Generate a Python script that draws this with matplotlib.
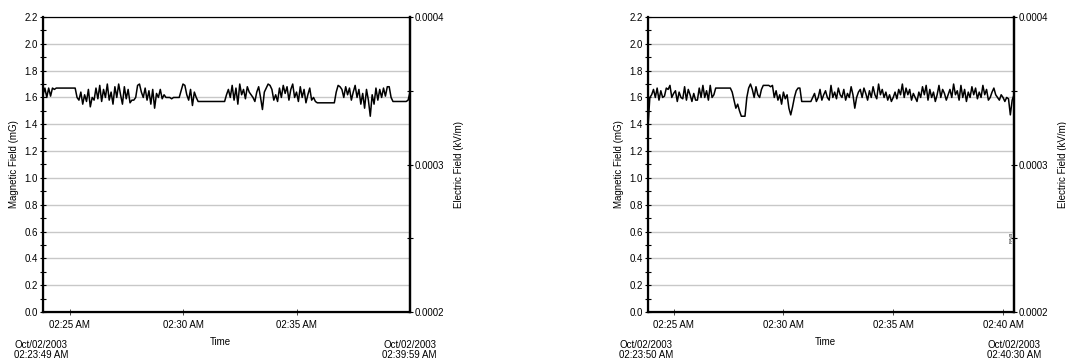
import matplotlib
matplotlib.use("Agg")
import matplotlib.pyplot as plt
import matplotlib.dates as mdates
from matplotlib.ticker import MultipleLocator, FixedLocator
import pandas as pd

plt.rcParams["font.family"] = ["Liberation Sans", "DejaVu Sans"]

# --- data ---
left_start = "2003-10-02 02:23:49"
left_end = "2003-10-02 02:39:59"
right_start = "2003-10-02 02:23:50"
right_end = "2003-10-02 02:40:30"

# magnetic field samples [mG], left recording
mag_left = (
    [1.62, 1.67, 1.60, 1.67, 1.61, 1.67, 1.66, 1.67]
    + [1.67] * 10
    + [1.60, 1.58, 1.64, 1.55, 1.62, 1.57, 1.66, 1.53, 1.60, 1.58,
       1.67, 1.59, 1.69, 1.57, 1.66, 1.60, 1.70, 1.58, 1.64, 1.55,
       1.68, 1.60, 1.70, 1.62, 1.55, 1.68, 1.59, 1.66, 1.56]
    + [1.58, 1.58, 1.60]
    + [1.69, 1.70, 1.64, 1.60, 1.67]
    + [1.58, 1.65, 1.55, 1.66, 1.52, 1.63, 1.60, 1.66, 1.59, 1.62]
    + [1.60, 1.60, 1.60, 1.59, 1.60, 1.60, 1.60, 1.60]
    + [1.65, 1.70, 1.69, 1.62]
    + [1.58, 1.66, 1.54, 1.64, 1.60, 1.57]
    + [1.57] * 13
    + [1.57, 1.62, 1.66, 1.60, 1.69, 1.58, 1.67, 1.55, 1.70, 1.62,
       1.66, 1.59, 1.68, 1.64, 1.62, 1.60, 1.57, 1.64, 1.68, 1.60,
       1.51, 1.64, 1.67, 1.70, 1.69, 1.66, 1.58, 1.62, 1.57, 1.67,
       1.60, 1.69, 1.63, 1.68, 1.58, 1.66, 1.70, 1.60, 1.64, 1.57,
       1.68, 1.60, 1.66, 1.56, 1.62, 1.67, 1.58, 1.60, 1.57]
    + [1.56] * 10
    + [1.64, 1.69, 1.68]
    + [1.66, 1.60, 1.68, 1.62, 1.67, 1.58, 1.64, 1.69, 1.60, 1.66,
       1.55, 1.63, 1.52, 1.66, 1.58, 1.46, 1.62, 1.55, 1.67, 1.58,
       1.66, 1.60, 1.67, 1.61, 1.68, 1.68, 1.60]
    + [1.57, 1.57, 1.57, 1.57, 1.57, 1.57, 1.57, 1.57, 1.58, 1.64]
)

# magnetic field samples [mG], right recording
mag_right = (
    [1.38, 1.60]
    + [1.62, 1.66, 1.60, 1.67, 1.58, 1.65, 1.60, 1.61, 1.67, 1.66,
       1.69, 1.60, 1.63, 1.65, 1.57, 1.64, 1.60, 1.59, 1.68, 1.58,
       1.66, 1.62, 1.57, 1.63, 1.58, 1.58, 1.67, 1.60, 1.69, 1.60,
       1.65, 1.58, 1.69, 1.60, 1.62, 1.67]
    + [1.67] * 8
    + [1.64, 1.58, 1.52, 1.55, 1.50, 1.46, 1.46, 1.46, 1.60, 1.67]
    + [1.70, 1.66, 1.60, 1.68, 1.62, 1.60, 1.66]
    + [1.69, 1.69, 1.69, 1.69, 1.68, 1.69]
    + [1.60, 1.65, 1.58, 1.62, 1.55, 1.64, 1.59, 1.62, 1.52, 1.47]
    + [1.53, 1.60, 1.65, 1.67, 1.67]
    + [1.57] * 6
    + [1.60, 1.63, 1.57, 1.60, 1.66, 1.58, 1.62, 1.65, 1.60, 1.58,
       1.69, 1.60, 1.64, 1.59, 1.67, 1.62, 1.60, 1.66, 1.58, 1.63,
       1.60, 1.68, 1.62, 1.52]
    + [1.60, 1.64, 1.66, 1.60, 1.67, 1.63, 1.58, 1.65, 1.60, 1.68,
       1.62, 1.59, 1.70, 1.62, 1.66, 1.60, 1.64, 1.58, 1.62, 1.57,
       1.60, 1.64, 1.59, 1.66, 1.62, 1.70, 1.60, 1.67, 1.62, 1.66,
       1.58, 1.63, 1.60, 1.57, 1.64, 1.60, 1.68, 1.62, 1.69, 1.58,
       1.66, 1.60, 1.64, 1.57, 1.62, 1.69, 1.60, 1.66, 1.63, 1.58,
       1.62, 1.66, 1.60, 1.70, 1.62, 1.65, 1.58, 1.69, 1.60, 1.66,
       1.57, 1.64, 1.60, 1.68, 1.62, 1.67, 1.59, 1.64, 1.60, 1.69,
       1.62, 1.66, 1.58, 1.60, 1.64, 1.67, 1.62, 1.60, 1.58, 1.62,
       1.60, 1.57, 1.60, 1.59]
    + [1.47, 1.58, 1.62]
)

mag_ticks = [0.0, 0.2, 0.4, 0.6, 0.8, 1.0, 1.2, 1.4, 1.6, 1.8, 2.0, 2.2]
ef_ticks = [0.0002, 0.0003, 0.0004]
ef_minor = [0.00025, 0.00035]
left_xticks = ["02:25", "02:30", "02:35"]
right_xticks = ["02:25", "02:30", "02:35", "02:40"]

W, H = 1066, 361
fig = plt.figure(figsize=(W / 100, H / 100), dpi=100)


def draw_panel(x0, width, start, end, values, xticks, efield_tag=False):
    ax = fig.add_axes([x0 / W, 49 / H, width / W, 295 / H])
    t = pd.date_range(start, end, periods=len(values))
    ax.plot(t, values, color="black", lw=1.1, zorder=3)

    ax.set_xlim(pd.Timestamp(start), pd.Timestamp(end))
    ax.set_ylim(0, 2.2)
    ax.yaxis.set_major_locator(FixedLocator(mag_ticks))
    ax.yaxis.set_minor_locator(MultipleLocator(0.1))
    ax.set_yticklabels([f"{v:.1f}" for v in mag_ticks])
    ax.grid(axis="y", color="#c8c8c8", lw=1.0, zorder=0)
    ax.set_axisbelow(True)

    day = pd.Timestamp(start).strftime("%Y-%m-%d")
    ax.set_xticks([pd.Timestamp(f"{day} {s}") for s in xticks])
    ax.xaxis.set_major_formatter(mdates.DateFormatter("%I:%M %p"))

    ax.tick_params(axis="both", which="both", direction="inout", labelsize=7)
    ax.tick_params(axis="y", which="major", length=5, width=0.8, pad=1)
    ax.tick_params(axis="y", which="minor", length=4, width=0.8)
    ax.tick_params(axis="x", which="major", length=5, width=0.5, pad=3)

    for side in ("left", "bottom", "right"):
        ax.spines[side].set_linewidth(1.6)
    ax.spines["top"].set_linewidth(0.8)

    ax.set_ylabel("Magnetic Field (mG)", fontsize=7, labelpad=4)

    ax2 = ax.twinx()
    ax2.set_ylim(0.0002, 0.0004)
    ax2.yaxis.set_major_locator(FixedLocator(ef_ticks))
    ax2.yaxis.set_minor_locator(FixedLocator(ef_minor))
    ax2.set_yticklabels([f"{v:.4f}" for v in ef_ticks])
    ax2.tick_params(axis="y", which="both", direction="inout", labelsize=7,
                    length=5, width=0.8, pad=1)
    ax2.spines["right"].set_linewidth(1.6)
    ax2.set_ylabel("Electric Field (kV/m)", fontsize=7)
    ax2.yaxis.set_label_coords(1.12, 0.5)

    if efield_tag:
        ax2.text(0.985, 0.00025, "E-Field", fontsize=2.5, rotation=270,
                 ha="center", va="center", transform=ax2.get_yaxis_transform())

    # time stamps below the axis
    s, e = pd.Timestamp(start), pd.Timestamp(end)
    fig.text((x0 - 29) / W, 1 / H,
             s.strftime("%b/%d/%Y") + "\n" + s.strftime("%I:%M:%S %p"),
             fontsize=7, ha="left", va="bottom", linespacing=1.0)
    fig.text((x0 + width + 27) / W, 1 / H,
             e.strftime("%b/%d/%Y") + "\n" + e.strftime("%I:%M:%S %p"),
             fontsize=7, ha="right", va="bottom", linespacing=1.0)
    fig.text((x0 + width / 2 - 6) / W, 14 / H, "Time", fontsize=7,
             ha="center", va="bottom")
    return ax


draw_panel(43, 367, left_start, left_end, mag_left, left_xticks)
draw_panel(648, 366, right_start, right_end, mag_right, right_xticks,
           efield_tag=True)

fig.savefig("out.png", dpi=100)
